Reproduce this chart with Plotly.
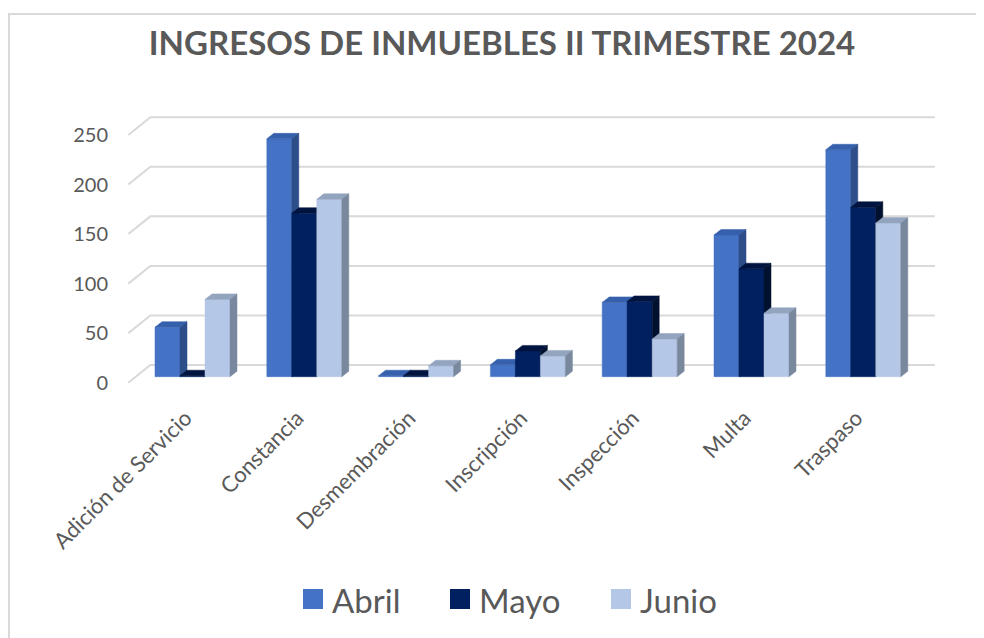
import plotly.graph_objects as go

categories = ["Adición de Servicio", "Constancia", "Desmembración", "Inscripción",
              "Inspección", "Multa", "Traspaso"]
series = ["Abril", "Mayo", "Junio"]
abril = [50, 240, 1, 12, 75, 143, 229]
mayo = [1, 165, 1, 26, 76, 109, 171]
junio = [78, 179, 11, 21, 38, 64, 155]
y_ticks = [0, 50, 100, 150, 200, 250]

values = [abril, mayo, junio]
front_colors = ["#4472C4", "#002060", "#B4C7E7"]
top_colors = ["#3660AC", "#00143F", "#93A4BE"]
side_colors = ["#2D4E88", "#00112F", "#7A889E"]
GRAY = "#595959"
FONT = "Lato"

# the page body adds an 8px margin, so the figure is shrunk and all
# positions below (measured on the page) are shifted by that amount
OFF = 8
W, H = 984 - OFF, 638 - OFF
L, R, T, B = 115 - OFF, 24, 100 - OFF, 638 - 400
PW, PH = W - L - R, H - T - B


def paper_x(px):
    return (px - OFF - L) / PW


def paper_y(py):
    return (H - B - (py - OFF)) / PH


# pseudo-3D geometry, in axis units (1 x unit = 111.8 px, 1 y unit = 0.991 px)
PX_X, PX_Y = 111.8, 0.991
X0_PX, Y0_PX = 192.5, 382.7   # page pixel of category 0 / value 0
bar_w = 25 / PX_X
bar_base = 6 / PX_Y
depth_x, depth_y = 7 / PX_X, 5.5 / PX_Y
wall_dx, wall_dy = 22 / PX_X, 17.7 / PX_Y
wall_x0, wall_x1 = -0.574, 6.64

fig = go.Figure()

# back wall gridlines (with the small slanted side-wall segment on the left)
for t in y_ticks:
    fig.add_trace(go.Scatter(
        x=[wall_x0, wall_x0 + wall_dx, wall_x1],
        y=[t, t + wall_dy, t + wall_dy],
        mode="lines", line=dict(color="#D9D9D9", width=2),
        hoverinfo="skip", showlegend=False,
    ))

# bars: front face, top face, side face; drawn left to right so the next
# bar hides the side of the previous one
for i in range(len(categories)):
    for s, vals in enumerate(values):
        v = vals[i]
        x0 = i + (s - 1) * bar_w - bar_w / 2
        x1 = x0 + bar_w
        y0 = bar_base
        y1 = bar_base + v
        faces = [
            ([x0, x1, x1, x0, x0], [y0, y0, y1, y1, y0], front_colors[s]),
            ([x0, x1, x1 + depth_x, x0 + depth_x, x0],
             [y1, y1, y1 + depth_y, y1 + depth_y, y1], top_colors[s]),
            ([x1, x1 + depth_x, x1 + depth_x, x1, x1],
             [y0, y0 + depth_y, y1 + depth_y, y1, y0], side_colors[s]),
        ]
        for fx, fy, col in faces:
            fig.add_trace(go.Scatter(
                x=fx, y=fy, mode="lines", fill="toself", fillcolor=col,
                line=dict(width=0.5, color=col),
                name=series[s], hoverinfo="skip", showlegend=False,
            ))

# chart border (only top and left edges are inside the picture)
fig.add_shape(type="rect", xref="paper", yref="paper",
              x0=paper_x(OFF + 1), x1=1.2, y0=-0.9, y1=paper_y(14),
              line=dict(color="#D9D9D9", width=2), layer="below")

# legend drawn by hand to get the large swatches
legend_sq = [303, 450, 611]
for s, name in enumerate(series):
    px = legend_sq[s]
    fig.add_shape(type="rect", xref="paper", yref="paper",
                  x0=paper_x(px), x1=paper_x(px + 20),
                  y0=paper_y(609), y1=paper_y(589),
                  fillcolor=front_colors[s], line=dict(width=0))
    fig.add_annotation(xref="paper", yref="paper",
                       x=paper_x(px + 27), y=paper_y(600),
                       xanchor="left", yanchor="middle", showarrow=False,
                       text=name, font=dict(family=FONT, size=33, color=GRAY))

fig.update_layout(
    width=W, height=H,
    margin=dict(l=L, r=R, t=T, b=B),
    paper_bgcolor="white", plot_bgcolor="white",
    showlegend=False,
    title=dict(text="<b>INGRESOS DE INMUEBLES II TRIMESTRE 2024</b>",
               x=(502 - OFF) / W, xanchor="center",
               y=1 - (43 - OFF) / H, yanchor="middle",
               font=dict(family=FONT, size=33, color=GRAY)),
    xaxis=dict(range=[(115 - X0_PX) / PX_X, (960 - X0_PX) / PX_X],
               tickvals=list(range(len(categories))), ticktext=categories,
               tickangle=-45, tickfont=dict(family=FONT, size=22, color=GRAY),
               ticklabelshift=-7,
               showgrid=False, zeroline=False, showline=False, ticks=""),
    yaxis=dict(range=[(Y0_PX - 400) / PX_Y, (Y0_PX - 100) / PX_Y],
               tickvals=y_ticks, tickfont=dict(family=FONT, size=20, color=GRAY),
               showgrid=False, zeroline=False, showline=False, ticks="",
               ticklabelstandoff=6),
)

fig.write_html("out.html")
